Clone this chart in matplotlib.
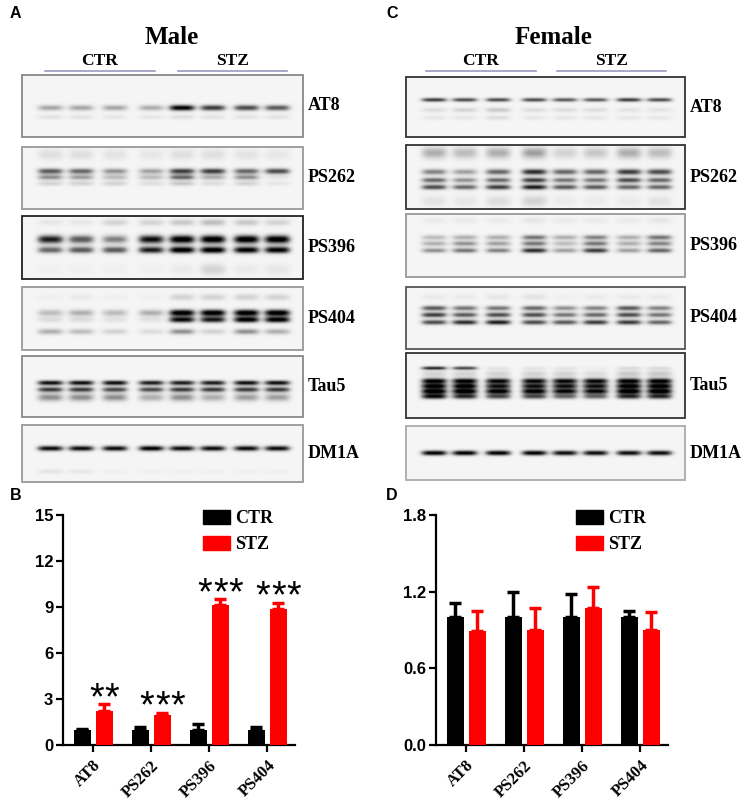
import numpy as np
import matplotlib.pyplot as plt
from matplotlib.patches import Rectangle

W, H = 747, 806

# quantification (fold of CTR)
markers = ['AT8', 'PS262', 'PS396', 'PS404']
male_ctr = [1.0, 1.0, 1.0, 1.0]
male_ctr_err = [0.05, 0.18, 0.38, 0.15]
male_stz = [2.2, 1.95, 9.1, 8.9]
male_stz_err = [0.45, 0.12, 0.4, 0.35]
male_stars = ['**', '***', '***', '***']
female_ctr = [1.0, 1.0, 1.0, 1.0]
female_ctr_err = [0.11, 0.2, 0.18, 0.05]
female_stz = [0.89, 0.9, 1.07, 0.9]
female_stz_err = [0.16, 0.17, 0.17, 0.14]

blot_names = ['AT8', 'PS262', 'PS396', 'PS404', 'Tau5', 'DM1A']

# blot bands: (row position in box, thickness, darkness per lane)
m_at8 = [(0.53, 0.035, [0.38, 0.38, 0.38, 0.36, 0.95, 0.75, 0.7, 0.65]),
         (0.68, 0.03, [0.12, 0.12, 0.1, 0.1, 0.14, 0.12, 0.12, 0.12])]
m_ps262 = [(0.12, 0.07, [0.14, 0.14, 0.12, 0.1, 0.14, 0.14, 0.12, 0.1]),
           (0.39, 0.035, [0.65, 0.6, 0.45, 0.4, 0.75, 0.75, 0.6, 0.7]),
           (0.49, 0.03, [0.45, 0.4, 0.3, 0.3, 0.6, 0.35, 0.45, 0.1]),
           (0.59, 0.03, [0.2, 0.2, 0.2, 0.15, 0.25, 0.15, 0.2, 0.1])]
m_ps396 = [(0.1, 0.04, [0.1, 0.1, 0.2, 0.2, 0.25, 0.3, 0.25, 0.2]),
           (0.37, 0.05, [0.85, 0.65, 0.5, 0.9, 1.0, 1.0, 1.0, 1.0]),
           (0.54, 0.04, [0.6, 0.65, 0.65, 0.85, 1.0, 1.0, 0.95, 0.95]),
           (0.85, 0.07, [0.05, 0.05, 0.05, 0.05, 0.08, 0.2, 0.08, 0.1])]
m_ps404 = [(0.16, 0.04, [0.05, 0.08, 0.05, 0.05, 0.2, 0.2, 0.2, 0.2]),
           (0.41, 0.04, [0.3, 0.35, 0.3, 0.35, 1.0, 1.0, 1.0, 1.0]),
           (0.52, 0.035, [0.15, 0.15, 0.12, 0.12, 0.9, 0.85, 0.95, 0.95]),
           (0.71, 0.035, [0.35, 0.3, 0.2, 0.15, 0.45, 0.2, 0.45, 0.35])]
m_tau5 = [(0.44, 0.03, [0.9, 0.9, 0.9, 0.85, 0.85, 0.85, 0.9, 0.9]),
          (0.55, 0.03, [0.75, 0.75, 0.7, 0.7, 0.75, 0.75, 0.75, 0.75]),
          (0.68, 0.05, [0.45, 0.45, 0.45, 0.35, 0.45, 0.35, 0.4, 0.4])]
m_dm1a = [(0.41, 0.035, [0.9, 0.9, 0.9, 0.95, 0.9, 0.9, 0.9, 0.9]),
          (0.82, 0.03, [0.12, 0.1, 0.05, 0.05, 0.05, 0.05, 0.05, 0.05])]
f_at8 = [(0.38, 0.025, [0.75, 0.7, 0.7, 0.7, 0.65, 0.65, 0.75, 0.7]),
         (0.55, 0.03, [0.15, 0.2, 0.25, 0.15, 0.15, 0.15, 0.12, 0.12]),
         (0.68, 0.03, [0.1, 0.1, 0.15, 0.1, 0.1, 0.1, 0.1, 0.1])]
f_ps262 = [(0.12, 0.07, [0.35, 0.3, 0.35, 0.4, 0.2, 0.25, 0.35, 0.3]),
           (0.42, 0.035, [0.5, 0.4, 0.6, 0.8, 0.6, 0.6, 0.75, 0.7]),
           (0.55, 0.03, [0.6, 0.45, 0.6, 0.75, 0.55, 0.55, 0.7, 0.6]),
           (0.66, 0.03, [0.7, 0.6, 0.75, 0.85, 0.65, 0.65, 0.6, 0.6]),
           (0.88, 0.07, [0.12, 0.1, 0.15, 0.2, 0.08, 0.08, 0.08, 0.12])]
f_ps396 = [(0.1, 0.04, [0.08, 0.08, 0.08, 0.1, 0.08, 0.08, 0.08, 0.1]),
           (0.37, 0.03, [0.3, 0.35, 0.35, 0.55, 0.35, 0.5, 0.35, 0.55]),
           (0.47, 0.03, [0.35, 0.45, 0.4, 0.55, 0.3, 0.55, 0.35, 0.5]),
           (0.58, 0.03, [0.45, 0.55, 0.5, 0.8, 0.4, 0.75, 0.4, 0.6])]
f_ps404 = [(0.16, 0.04, [0.08, 0.08, 0.1, 0.12, 0.05, 0.08, 0.08, 0.08]),
           (0.34, 0.03, [0.65, 0.55, 0.55, 0.6, 0.45, 0.5, 0.65, 0.5]),
           (0.45, 0.03, [0.75, 0.65, 0.7, 0.7, 0.55, 0.6, 0.7, 0.55]),
           (0.57, 0.03, [0.7, 0.8, 0.85, 0.7, 0.65, 0.75, 0.75, 0.6])]
f_tau5 = [(0.23, 0.02, [0.8, 0.7, 0.1, 0.1, 0.1, 0.05, 0.15, 0.15]),
          (0.32, 0.04, [0.2, 0.2, 0.2, 0.2, 0.2, 0.15, 0.25, 0.25]),
          (0.43, 0.03, [0.95, 0.95, 0.9, 0.9, 0.9, 0.9, 0.95, 0.95]),
          (0.51, 0.03, [0.95, 0.95, 0.85, 0.85, 0.85, 0.85, 0.95, 0.95]),
          (0.59, 0.03, [1.0, 1.0, 0.95, 0.95, 0.9, 0.9, 1.0, 1.0]),
          (0.67, 0.03, [0.9, 0.8, 0.7, 0.7, 0.6, 0.6, 0.8, 0.8])]
f_dm1a = [(0.5, 0.035, [0.95, 0.95, 0.95, 0.95, 0.9, 0.9, 0.9, 0.9])]

male_bands = [m_at8, m_ps262, m_ps396, m_ps404, m_tau5, m_dm1a]
female_bands = [f_at8, f_ps262, f_ps396, f_ps404, f_tau5, f_dm1a]

lanes = [0.10, 0.21, 0.33, 0.46, 0.57, 0.68, 0.80, 0.91]

male_boxes = [(75, 137), (147, 209), (216, 279), (287, 350), (356, 417), (425, 482)]
female_boxes = [(77, 137), (145, 209), (214, 277), (287, 349), (353, 418), (426, 480)]
male_edges = ['#888888', '#999999', '#222222', '#999999', '#888888', '#999999']
female_edges = ['#333333', '#333333', '#999999', '#555555', '#333333', '#aaaaaa']


def blot_img(bands, h=120, w=300, bg=0.08):
    yy = np.linspace(0, 1, h)[:, None]
    xx = np.linspace(0, 1, w)[None, :]
    img = np.full((h, w), bg)
    for yc, sig, vals in bands:
        for xc, v in zip(lanes, vals):
            img += v * np.exp(-0.5 * ((yy - yc) / sig) ** 2) * np.exp(-(np.abs(xx - xc) / 0.047) ** 4)
    return np.clip(img, 0, 1)


fig = plt.figure(figsize=(W / 100, H / 100), dpi=100)
ov = fig.add_axes([0, 0, 1, 1])
ov.set_axis_off()

serif = 'Liberation Serif'
sans = 'Liberation Sans'


def draw_blots(x0, x1, boxes, bands, edges, title, xt, ctr_line, stz_line):
    ov.text(xt, 37, title, fontsize=18, fontweight='bold', family=serif, ha='center', va='center')
    for (a, b), lab in zip([ctr_line, stz_line], ['CTR', 'STZ']):
        ov.text((a + b) / 2, 61, lab, fontsize=12.5, fontweight='bold', family=serif, ha='center', va='center')
        ov.plot([a, b], [71, 71], color='#9a9ac0', lw=1.2)
    for (y0, y1), bd, ec, name in zip(boxes, bands, edges, blot_names):
        ov.imshow(blot_img(bd), cmap='Greys', vmin=0, vmax=1, extent=[x0, x1, y1, y0],
                  aspect='auto', interpolation='bilinear')
        ov.add_patch(Rectangle((x0, y0), x1 - x0, y1 - y0, fill=False, edgecolor=ec, lw=1.3))
        ov.text(x1 + 5, (y0 + y1) / 2, name, fontsize=13, fontweight='bold', family=serif,
                ha='left', va='center')


draw_blots(22, 303, male_boxes, male_bands, male_edges, 'Male', 172, (45, 155), (178, 287))
draw_blots(406, 685, female_boxes, female_bands, female_edges, 'Female', 553, (426, 536), (557, 666))

for lab, (x, y) in zip('ABCD', [(10, 13), (10, 496), (386, 13), (386, 496)]):
    ov.text(x, y, lab, fontsize=11.5, fontweight='bold', family=sans, ha='left', va='center')

ov.set_xlim(0, W)
ov.set_ylim(H, 0)


def bar_panel(left, ctr, ctr_err, stz, stz_err, ymax, yticks, ylabels, stars=None):
    ax = fig.add_axes([left / W, 1 - 745 / H, 232 / W, 230 / H])
    x = np.arange(len(markers))
    off = 0.19
    bw = 0.29
    ax.bar(x - off, ctr, bw, color='black', zorder=3)
    ax.bar(x + off, stz, bw, color='#ff0000', zorder=3)
    ax.errorbar(x - off, ctr, yerr=[np.zeros(4), ctr_err], fmt='none', ecolor='black',
                elinewidth=2.5, capsize=4, capthick=2.5, zorder=2)
    ax.errorbar(x + off, stz, yerr=[np.zeros(4), stz_err], fmt='none', ecolor='#ff0000',
                elinewidth=2.5, capsize=4, capthick=2.5, zorder=2)
    if stars:
        for xi, v, e, s in zip(x, stz, stz_err, stars):
            n = len(s)
            for k in range(n):
                dx = (k - (n - 1) / 2) * 11
                ax.annotate('*', (xi + off, v + e), xytext=(dx, -9), textcoords='offset points',
                            fontsize=27, family=sans, ha='center', va='bottom')
    ax.set_xlim(-0.52, 3.48)
    ax.set_ylim(0, ymax)
    ax.set_yticks(yticks)
    ax.set_yticklabels(ylabels, fontsize=12, fontweight='bold', family=sans)
    ax.set_xticks(x)
    ax.set_xticklabels(markers, rotation=45, ha='right', rotation_mode='anchor',
                       fontsize=12, fontweight='bold', family=serif)
    for sp in ['top', 'right']:
        ax.spines[sp].set_visible(False)
    for sp in ['left', 'bottom']:
        ax.spines[sp].set_linewidth(1.6)
    ax.tick_params(width=1.6, length=5, pad=2)
    ax.tick_params(axis='x', pad=4)
    ax.patch.set_alpha(0)
    handles = [Rectangle((0, 0), 1, 1, color='black'), Rectangle((0, 0), 1, 1, color='#ff0000')]
    fig.legend(handles, ['CTR', 'STZ'], loc='upper left',
               bbox_to_anchor=((left + 140) / W, 1 - 510 / H), frameon=False,
               prop={'family': serif, 'weight': 'bold', 'size': 13},
               handlelength=1.5, handleheight=0.85, labelspacing=0.45, handletextpad=0.3,
               borderpad=0, borderaxespad=0)
    return ax


bar_panel(63, male_ctr, male_ctr_err, male_stz, male_stz_err, 15,
          [0, 3, 6, 9, 12, 15], ['0', '3', '6', '9', '12', '15'], male_stars)
bar_panel(436, female_ctr, female_ctr_err, female_stz, female_stz_err, 1.8,
          [0, 0.6, 1.2, 1.8], ['0.0', '0.6', '1.2', '1.8'])

fig.savefig('out.png', dpi=100)
